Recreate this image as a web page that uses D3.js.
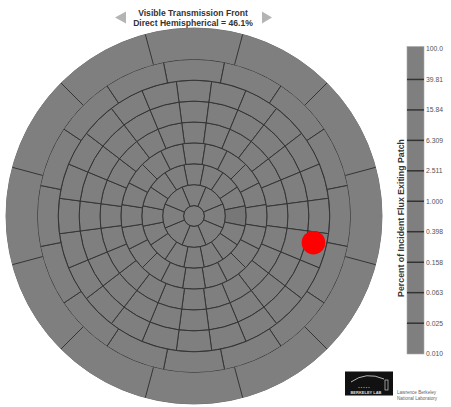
<!DOCTYPE html>
<html><head><meta charset="utf-8">
<script src="https://cdn.jsdelivr.net/npm/d3@7"></script>
<style>html,body{margin:0;padding:0;background:#fff;}svg{display:block;}</style>
</head><body>
<svg id="chart" width="451" height="407"></svg>
<script>
// ---- data ----
const titleLines = ["Visible Transmission Front", "Direct Hemispherical = 46.1%"];
const thetaBounds = [0, 5, 15, 25, 35, 45, 55, 65, 75, 90];      // Klems ring limits (deg)
const ringPatchCounts = [1, 8, 16, 20, 24, 24, 24, 16, 12];      // patches per ring
const ringFlux = [1.0, 1.0, 1.0, 1.0, 1.0, 1.0, 1.0, 1.0, 1.0];  // percent (all patches read as same grey)
const darkPatch = {ring: 2, index: 4, flux: 0.9};                  // slightly darker patch
const incident = {theta: 58.6, phi: -12.6};                        // red marker (deg)
const tickValues = [100, 39.81, 15.84, 6.309, 2.511, 1.0, 0.398, 0.158, 0.063, 0.025, 0.010];
const tickLabels = ["100.0", "39.81", "15.84", "6.309", "2.511", "1.000", "0.398", "0.158", "0.063", "0.025", "0.010"];
const colorbarTitle = "Percent of Incident Flux Exiting Patch";

// ---- layout ----
const svg = d3.select("#chart");
const cx = 194, cy = 216, R = 188;
const rScale = d3.scaleLinear().domain([0, 90]).range([0, R]);
const grey = d3.scaleLog().domain([0.01, 100]).range(["#7f7f7f", "#7f7f7f"]).clamp(true);

// title
const tg = svg.append("g").attr("font-family", "Liberation Sans, Arial, sans-serif")
  .attr("font-weight", "bold").attr("font-size", 8.6).attr("fill", "#333").attr("text-anchor", "middle");
titleLines.forEach((t, i) => tg.append("text").attr("x", 193).attr("y", 16 + i * 10).text(t));
svg.append("path").attr("d", "M126,11.5 L115,17.5 L126,23.5 Z").attr("fill", "#b4b4b4");
svg.append("path").attr("d", "M262,11.5 L272,17.5 L262,23.5 Z").attr("fill", "#b4b4b4");

// hemisphere patches
const g = svg.append("g").attr("transform", `translate(${cx},${cy})`);
g.append("circle").attr("r", R).attr("fill", grey(1)).attr("stroke", "#666").attr("stroke-width", 0.8);
const arc = d3.arc();
const patches = [];
ringPatchCounts.forEach((n, ri) => {
  for (let k = 0; k < n; k++) {
    const w = 2 * Math.PI / n;
    const flux = (ri === darkPatch.ring && k === darkPatch.index) ? darkPatch.flux : ringFlux[ri];
    patches.push({
      ri, k, flux,
      innerRadius: rScale(thetaBounds[ri]),
      outerRadius: rScale(thetaBounds[ri + 1]),
      startAngle: n === 1 ? 0 : (k - 0.5) * w,
      endAngle: n === 1 ? 2 * Math.PI : (k + 0.5) * w
    });
  }
});
g.selectAll("path.patch").data(patches).join("path").attr("class", "patch")
  .attr("d", d => arc(d))
  .attr("fill", d => d.ri === darkPatch.ring && d.k === darkPatch.index ? "#777777" : grey(d.flux))
  .attr("stroke", d => d.ri === 8 ? "none" : "#353535")
  .attr("stroke-width", 1.0);
// outer ring radial separators (outer edge kept soft)
patches.filter(d => d.ri === 8).forEach(d => {
  const a = d.startAngle;
  g.append("line")
    .attr("x1", d.innerRadius * Math.sin(a)).attr("y1", -d.innerRadius * Math.cos(a))
    .attr("x2", d.outerRadius * Math.sin(a)).attr("y2", -d.outerRadius * Math.cos(a))
    .attr("stroke", "#353535").attr("stroke-width", 1.0);
});

// incident direction marker
const pr = rScale(incident.theta), pa = incident.phi * Math.PI / 180;
g.append("circle").attr("cx", pr * Math.cos(pa)).attr("cy", -pr * Math.sin(pa))
  .attr("r", 11.8).attr("fill", "#ff0000");

// colorbar
const yBar = d3.scaleLog().domain([0.01, 100]).range([353.5, 49]);
const bx = 407, bw = 17;
svg.append("rect").attr("x", bx).attr("y", 46.5).attr("width", bw).attr("height", 307.5)
  .attr("fill", grey(1)).attr("stroke", "#aaa").attr("stroke-width", 0.6);
svg.selectAll("line.cbt").data(tickValues.slice(1, -1)).join("line").attr("class", "cbt")
  .attr("x1", bx).attr("x2", bx + bw).attr("y1", d => yBar(d)).attr("y2", d => yBar(d))
  .attr("stroke", "#333").attr("stroke-width", 1.5);
svg.selectAll("text.cbl").data(tickValues).join("text").attr("class", "cbl")
  .attr("x", 426).attr("y", d => yBar(d) + 2.4)
  .attr("font-family", "Liberation Sans, Arial, sans-serif").attr("font-size", 6.8).attr("fill", "#555")
  .text((d, i) => tickLabels[i]);
svg.append("text").attr("transform", "translate(404,218) rotate(-90)")
  .attr("text-anchor", "middle").attr("font-family", "Liberation Sans, Arial, sans-serif")
  .attr("font-weight", "bold").attr("font-size", 8.8).attr("fill", "#333").text(colorbarTitle);

// logo
const lg = svg.append("g");
lg.append("rect").attr("x", 345).attr("y", 371.5).attr("width", 48).attr("height", 24).attr("fill", "#111");
lg.append("path").attr("d", "M351,382 Q366,371 384,379").attr("fill", "none").attr("stroke", "#ddd").attr("stroke-width", 0.8);
lg.append("text").attr("x", 364).attr("y", 389).attr("text-anchor", "middle").attr("font-family", "Liberation Sans, Arial, sans-serif")
  .attr("font-size", 4).attr("fill", "#bbb").text("• • • • •");
lg.append("rect").attr("x", 385).attr("y", 380).attr("width", 3).attr("height", 10).attr("fill", "none").attr("stroke", "#ccc").attr("stroke-width", 0.7);
lg.append("text").attr("x", 366).attr("y", 393.5).attr("text-anchor", "middle").attr("font-family", "Liberation Sans, Arial, sans-serif")
  .attr("font-weight", "bold").attr("font-size", 4).attr("fill", "#ddd").text("BERKELEY LAB");
lg.append("text").attr("x", 397).attr("y", 393.5).attr("font-family", "Liberation Sans, Arial, sans-serif")
  .attr("font-size", 4.6).attr("fill", "#666").text("Lawrence Berkeley");
lg.append("text").attr("x", 397).attr("y", 399.5).attr("font-family", "Liberation Sans, Arial, sans-serif")
  .attr("font-size", 4.6).attr("fill", "#666").text("National Laboratory");
</script>
</body></html>
